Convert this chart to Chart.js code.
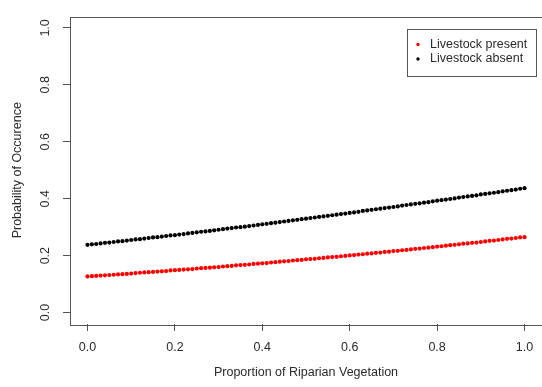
<!DOCTYPE html>
<html>
<head>
<meta charset="utf-8">
<script src="https://cdn.jsdelivr.net/npm/chart.js@4.4.1/dist/chart.umd.min.js"></script>
<style>
  html, body { margin: 0; padding: 0; background: #fff; overflow: hidden; }
  #wrap { width: 546px; height: 387px; }
</style>
</head>
<body>
<div id="wrap"><canvas id="chart" width="546" height="387"></canvas></div>
<script>
// proportion of riparian vegetation (x)
const proportion = [
  0.00, 0.01, 0.02, 0.03, 0.04, 0.05, 0.06, 0.07, 0.08, 0.09,
  0.10, 0.11, 0.12, 0.13, 0.14, 0.15, 0.16, 0.17, 0.18, 0.19,
  0.20, 0.21, 0.22, 0.23, 0.24, 0.25, 0.26, 0.27, 0.28, 0.29,
  0.30, 0.31, 0.32, 0.33, 0.34, 0.35, 0.36, 0.37, 0.38, 0.39,
  0.40, 0.41, 0.42, 0.43, 0.44, 0.45, 0.46, 0.47, 0.48, 0.49,
  0.50, 0.51, 0.52, 0.53, 0.54, 0.55, 0.56, 0.57, 0.58, 0.59,
  0.60, 0.61, 0.62, 0.63, 0.64, 0.65, 0.66, 0.67, 0.68, 0.69,
  0.70, 0.71, 0.72, 0.73, 0.74, 0.75, 0.76, 0.77, 0.78, 0.79,
  0.80, 0.81, 0.82, 0.83, 0.84, 0.85, 0.86, 0.87, 0.88, 0.89,
  0.90, 0.91, 0.92, 0.93, 0.94, 0.95, 0.96, 0.97, 0.98, 0.99,
  1.00
];

// predicted probability, livestock present
const livestockPresent = [
  0.127, 0.128, 0.129, 0.130, 0.131, 0.132, 0.133, 0.134, 0.135, 0.136,
  0.137, 0.139, 0.140, 0.141, 0.142, 0.143, 0.144, 0.145, 0.146, 0.148,
  0.149, 0.150, 0.151, 0.152, 0.153, 0.155, 0.156, 0.157, 0.158, 0.159,
  0.160, 0.162, 0.163, 0.164, 0.166, 0.167, 0.168, 0.169, 0.171, 0.172,
  0.173, 0.174, 0.176, 0.177, 0.179, 0.180, 0.181, 0.183, 0.184, 0.185,
  0.187, 0.188, 0.189, 0.191, 0.192, 0.194, 0.195, 0.196, 0.198, 0.199,
  0.201, 0.202, 0.204, 0.205, 0.207, 0.208, 0.210, 0.211, 0.213, 0.214,
  0.216, 0.217, 0.219, 0.220, 0.222, 0.224, 0.225, 0.227, 0.228, 0.230,
  0.232, 0.233, 0.235, 0.237, 0.238, 0.240, 0.242, 0.243, 0.245, 0.246,
  0.248, 0.250, 0.252, 0.253, 0.255, 0.257, 0.259, 0.260, 0.262, 0.264,
  0.265
];

// predicted probability, livestock absent
const livestockAbsent = [
  0.238, 0.240, 0.241, 0.243, 0.245, 0.246, 0.248, 0.250, 0.251, 0.253,
  0.255, 0.257, 0.258, 0.260, 0.262, 0.264, 0.265, 0.267, 0.269, 0.271,
  0.272, 0.274, 0.276, 0.278, 0.280, 0.282, 0.284, 0.285, 0.287, 0.289,
  0.291, 0.293, 0.295, 0.297, 0.299, 0.300, 0.302, 0.304, 0.306, 0.308,
  0.310, 0.312, 0.314, 0.316, 0.318, 0.320, 0.322, 0.324, 0.326, 0.328,
  0.330, 0.332, 0.334, 0.336, 0.338, 0.340, 0.342, 0.344, 0.346, 0.348,
  0.350, 0.352, 0.354, 0.357, 0.359, 0.361, 0.363, 0.365, 0.367, 0.369,
  0.371, 0.373, 0.376, 0.378, 0.380, 0.382, 0.384, 0.386, 0.388, 0.391,
  0.393, 0.395, 0.397, 0.399, 0.401, 0.404, 0.406, 0.408, 0.410, 0.412,
  0.415, 0.417, 0.419, 0.421, 0.423, 0.426, 0.428, 0.430, 0.432, 0.435,
  0.437
];

const tickValues = [0, 0.2, 0.4, 0.6, 0.8, 1.0];
const seriesLabels = ['Livestock present', 'Livestock absent'];

const FONT = '"Liberation Sans", Arial, sans-serif';
const FONT_SIZE = 12.5;
const TEXT = '#2b2b2b';
const LINE = '#555';

// R-style box around the plotting region
const boxPlugin = {
  id: 'plotBox',
  afterDatasetsDraw(chart) {
    const a = chart.chartArea;
    const ctx = chart.ctx;
    ctx.save();
    ctx.strokeStyle = LINE;
    ctx.lineWidth = 1;
    ctx.strokeRect(Math.round(a.left) + 0.5, Math.round(a.top) + 0.5,
                   Math.round(a.right - a.left), Math.round(a.bottom - a.top));
    ctx.restore();
  }
};

// boxed legend in the top-right corner
const legendBoxPlugin = {
  id: 'legendBox',
  afterDraw(chart) {
    const a = chart.chartArea;
    const ctx = chart.ctx;
    const right = a.right - 7;
    const left = right - 128.5;
    const top = a.top + 12.5;
    const height = 46.5;
    ctx.save();
    ctx.fillStyle = '#fff';
    ctx.fillRect(left, top, right - left, height);
    ctx.strokeStyle = LINE;
    ctx.lineWidth = 1;
    ctx.strokeRect(Math.round(left) + 0.5, Math.round(top) + 0.5, Math.round(right - left), Math.round(height));
    ctx.font = FONT_SIZE + 'px ' + FONT;
    ctx.textBaseline = 'middle';
    ctx.textAlign = 'left';
    chart.data.datasets.forEach((ds, i) => {
      const y = top + 15.5 + i * 14.5;
      ctx.fillStyle = ds.backgroundColor;
      ctx.beginPath();
      ctx.arc(left + 11.5, y, 1.7, 0, Math.PI * 2);
      ctx.fill();
      ctx.fillStyle = TEXT;
      ctx.fillText(ds.label, left + 23.5, y);
    });
    ctx.restore();
  }
};

function fixedTicks(scale) {
  scale.ticks = tickValues.map(v => ({ value: v }));
}

const ctx = document.getElementById('chart').getContext('2d');
new Chart(ctx, {
  type: 'scatter',
  data: {
    datasets: [
      {
        label: seriesLabels[0],
        data: proportion.map((x, i) => ({ x: x, y: livestockPresent[i] })),
        backgroundColor: '#ff0000',
        borderColor: '#ff0000',
        borderWidth: 0,
        pointRadius: 2.1
      },
      {
        label: seriesLabels[1],
        data: proportion.map((x, i) => ({ x: x, y: livestockAbsent[i] })),
        backgroundColor: '#000000',
        borderColor: '#000000',
        borderWidth: 0,
        pointRadius: 2.1
      }
    ]
  },
  options: {
    responsive: false,
    animation: false,
    devicePixelRatio: 1,
    layout: { padding: { top: 11, right: 2, left: 0, bottom: 0 } },
    plugins: {
      legend: { display: false },
      tooltip: { enabled: false }
    },
    scales: {
      x: {
        type: 'linear',
        min: -0.04,
        max: 1.04,
        afterBuildTicks: fixedTicks,
        afterFit(scale) { scale.height = 63; },
        border: { display: false },
        grid: { drawOnChartArea: false, drawTicks: true, tickLength: 7, color: LINE },
        ticks: {
          font: { family: FONT, size: FONT_SIZE },
          color: TEXT,
          padding: 9,
          maxRotation: 0,
          callback: v => v.toFixed(1)
        },
        title: {
          display: true,
          text: 'Proportion of Riparian Vegetation',
          font: { family: FONT, size: FONT_SIZE },
          color: TEXT,
          padding: { top: 0, bottom: 7 }
        }
      },
      y: {
        type: 'linear',
        min: -0.04,
        max: 1.04,
        afterBuildTicks: fixedTicks,
        afterFit(scale) { scale.width = 70; },
        border: { display: false },
        grid: { drawOnChartArea: false, drawTicks: true, tickLength: 7, color: LINE },
        ticks: {
          font: { family: FONT, size: FONT_SIZE },
          color: TEXT,
          padding: 9,
          minRotation: 90,
          maxRotation: 90,
          crossAlign: 'center',
          callback: v => v.toFixed(1)
        },
        title: {
          display: true,
          text: 'Probability of Occurence',
          font: { family: FONT, size: FONT_SIZE },
          color: TEXT,
          padding: { top: 10, bottom: 0 }
        }
      }
    }
  },
  plugins: [boxPlugin, legendBoxPlugin]
});
</script>
</body>
</html>
